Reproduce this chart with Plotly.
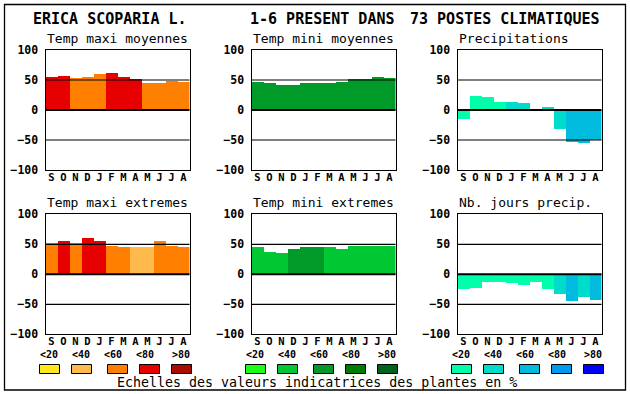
import plotly.graph_objects as go

# ---------------- data ----------------
months = ["S", "O", "N", "D", "J", "F", "M", "A", "M", "J", "J", "A"]
y_ticks = [-100, -50, 0, 50, 100]
scale_labels = ["<20", "<40", "<60", "<80", ">80"]

panel_titles = ["Temp maxi moyennes", "Temp mini moyennes", "Precipitations",
                "Temp maxi extremes", "Temp mini extremes", "Nb. jours precip."]

tmax_moy = [55, 57, 53, 55, 60, 62, 55, 52, 45, 45, 48, 47]
tmax_moy_cls = [3, 3, 2, 2, 2, 3, 3, 3, 2, 2, 2, 2]
tmin_moy = [47, 45, 42, 42, 45, 45, 45, 47, 52, 52, 55, 53]
tmin_moy_cls = [2, 2, 2, 2, 2, 2, 2, 2, 2, 2, 2, 2]
precip = [-15, 23, 22, 13, 13, 12, 2, 5, -32, -53, -55, -50]
precip_cls = [0, 0, 0, 0, 1, 1, 1, 1, 1, 2, 2, 2]
tmax_ext = [53, 55, 52, 60, 55, 48, 45, 45, 45, 55, 48, 45]
tmax_ext_cls = [2, 3, 2, 3, 3, 2, 2, 1, 1, 2, 2, 2]
tmin_ext = [45, 37, 35, 43, 45, 45, 45, 43, 48, 47, 47, 47]
tmin_ext_cls = [1, 1, 1, 2, 2, 2, 1, 1, 1, 1, 1, 1]
nb_jours = [-25, -23, -12, -13, -15, -18, -12, -25, -33, -45, -37, -43]
nb_jours_cls = [0, 0, 0, 0, 0, 0, 0, 0, 1, 2, 1, 2]

# colour scales
scale_tmax = ["#FFE61E", "#FFBA4D", "#FF8000", "#E60000", "#AA0A00"]
scale_tmin = ["#1AFF1A", "#00C832", "#009A28", "#007D00", "#006220"]
scale_prec = ["#00FFAA", "#00DCCC", "#00BBDD", "#0099EE", "#0000FF"]

# ---------------- layout helpers ----------------
W, H = 630, 394
def px(x):
    return x / W
def py(y):
    return 1 - y / H

col_left = [45.5, 251.5, 457.5]
plot_w = 144
row_top = [50, 214.3]
plot_h = 120

panels = [
    (tmax_moy, tmax_moy_cls, scale_tmax),
    (tmin_moy, tmin_moy_cls, scale_tmin),
    (precip, precip_cls, scale_prec),
    (tmax_ext, tmax_ext_cls, scale_tmax),
    (tmin_ext, tmin_ext_cls, scale_tmin),
    (nb_jours, nb_jours_cls, scale_prec),
]

MONO = "DejaVu Sans Mono"
fig = go.Figure()
shapes = []
annotations = []

for i, (vals, cls, scale) in enumerate(panels):
    r, c = divmod(i, 3)
    n = i + 1
    xa = "x" if n == 1 else f"x{n}"
    ya = "y" if n == 1 else f"y{n}"
    fig.add_trace(go.Bar(
        x=list(range(len(months))), y=vals,
        marker=dict(color=[scale[k] for k in cls], line=dict(width=0)),
        width=1, xaxis=xa, yaxis=ya, showlegend=False, hoverinfo="skip"))
    left = col_left[c]
    top = row_top[r]
    xkey = "xaxis" if n == 1 else f"xaxis{n}"
    ykey = "yaxis" if n == 1 else f"yaxis{n}"
    fig.layout[xkey] = dict(
        domain=[px(left), px(left + plot_w)], anchor=ya,
        range=[-0.5, len(months) - 0.5],
        tickvals=list(range(len(months))), ticktext=months,
        showgrid=False, zeroline=False, showline=True, mirror=True,
        linecolor="black", linewidth=1, ticks="", layer="above traces",
        tickfont=dict(family=MONO, size=10.5, color="black", weight="bold"),
        ticklabelstandoff=-3, automargin=False, fixedrange=True)
    fig.layout[ykey] = dict(
        domain=[py(top + plot_h), py(top)], anchor=xa,
        range=[-100, 100], tickvals=y_ticks,
        showgrid=False, zeroline=False, showline=True, mirror=True,
        linecolor="black", linewidth=1, ticks="", layer="above traces",
        tickfont=dict(family=MONO, size=11.5, color="black", weight="bold"),
        ticklabelstandoff=4, automargin=False, fixedrange=True)
    for yv, lw in ((50, 1.2), (-50, 1.2), (0, 2)):
        shapes.append(dict(type="line", xref=f"{xa} domain", yref=ya,
                           x0=0, x1=1, y0=yv, y1=yv, layer="above",
                           line=dict(color="black", width=lw)))
    annotations.append(dict(
        text=panel_titles[i], xref="paper", yref="paper",
        x=px(left - 1), y=py(top - 11.5), xanchor="left", yanchor="middle",
        showarrow=False, font=dict(family=MONO, size=13, color="black")))

# legend scales under each column
label_off = [3.7, 35.7, 67.7, 99.7, 135.7]
box_off = [-6, 26, 62, 94, 126]
col_scales = [scale_tmax, scale_tmin, scale_prec]
for c in range(3):
    left = col_left[c]
    for k in range(5):
        annotations.append(dict(
            text=scale_labels[k], xref="paper", yref="paper",
            x=px(left + label_off[k]), y=py(354.5), xanchor="center", yanchor="middle",
            showarrow=False, font=dict(family=MONO, size=10, color="black", weight="bold")))
        shapes.append(dict(type="rect", xref="paper", yref="paper",
                           x0=px(left + box_off[k]), x1=px(left + box_off[k] + 20),
                           y0=py(373.5), y1=py(364.5),
                           fillcolor=col_scales[c][k],
                           line=dict(color="black", width=1)))

# main title
for txt, x0 in (("ERICA SCOPARIA L.", 30.5), ("1-6 PRESENT DANS", 247.5),
                ("73 POSTES CLIMATIQUES", 408)):
    annotations.append(dict(
        text=txt, xref="paper", yref="paper", x=px(x0), y=py(18.5),
        xanchor="left", yanchor="middle", showarrow=False,
        font=dict(family=MONO, size=15, color="black", weight="bold")))

annotations.append(dict(
    text="Echelles des valeurs indicatrices des plantes en %",
    xref="paper", yref="paper", x=px(115), y=py(382),
    xanchor="left", yanchor="middle", showarrow=False,
    font=dict(family=MONO, size=13.3, color="black")))

# outer frame
shapes.append(dict(type="rect", xref="paper", yref="paper",
                   x0=px(4.5), x1=px(625.5), y0=py(390), y1=py(4.5),
                   line=dict(color="black", width=1.3), layer="above"))

fig.update_layout(
    width=W, height=H,
    margin=dict(l=0, r=0, t=0, b=0, pad=0, autoexpand=False),
    paper_bgcolor="white", plot_bgcolor="white",
    shapes=shapes, annotations=annotations, bargap=0, showlegend=False)

js = (
    "var d=document.getElementById('{plot_id}');"
    "document.body.style.margin='0';"
    "document.body.style.overflow='hidden';"
    "d.style.position='fixed';d.style.left='0px';d.style.top='0px';"
)
fig.write_html("out.html",
               config={"displayModeBar": False, "staticPlot": True},
               post_script=js)
